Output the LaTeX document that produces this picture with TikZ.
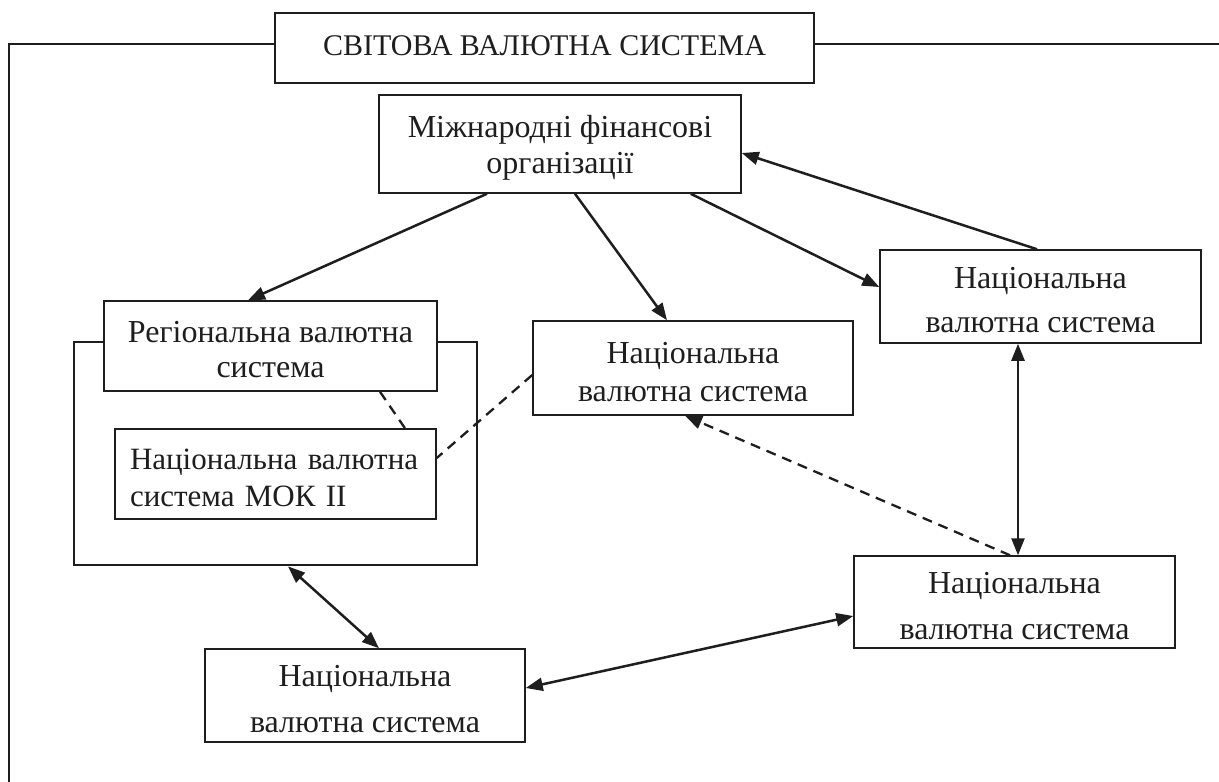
\documentclass[tikz,border=0pt]{standalone}
\usepackage{fontspec}
\setmainfont{Liberation Serif}
\usetikzlibrary{arrows.meta,calc}
\definecolor{ink}{HTML}{1E1E1E}
\begin{document}
\begin{tikzpicture}[x=1pt,y=-1pt,
  txt/.style={font=\fontsize{32}{38}\selectfont, text=ink},
  sbox/.style={draw=ink, line width=1.5pt, fill=white, inner sep=0pt},
  lbl/.style={txt, align=center, inner sep=0pt, yshift=-4pt},
  titlebox/.style={draw=ink, line width=2.8pt, fill=white, inner sep=0pt},
  framebox/.style={draw=ink, line width=2.8pt, inner sep=0pt},
  tip/.style={-{Triangle[length=17pt,width=13pt]}},
  conn/.style={draw=ink, line width=2.5pt, tip},
  biconn/.style={draw=ink, line width=2.5pt, {Triangle[length=17pt,width=13pt]}-{Triangle[length=17pt,width=13pt]}},
  dashline/.style={draw=ink, line width=2.3pt, dash pattern=on 10pt off 7pt}
]
\useasboundingbox (0,0) rectangle (1219,782);
\fill[white] (0,0) rectangle (1219,782);

% outer frame and title
\node[titlebox, minimum width=539pt, minimum height=70pt,
  label={[txt, font=\fontsize{30}{36}\selectfont, anchor=north, yshift=-21pt]north:СВІТОВА ВАЛЮТНА СИСТЕМА}] (title) at (544.5,48) {};
\coordinate (fbl) at (9,782);
\coordinate (fr) at (1219,44);
\draw[draw=ink, line width=2.2pt] (fbl) |- ([yshift=4pt]title.west);
\draw[draw=ink, line width=2.2pt] ([yshift=4pt]title.east) -- (fr);

% boxes
\node[sbox, minimum width=362pt, minimum height=98pt,
  label={[lbl, font=\fontsize{32}{36}\selectfont]center:{Міжнародні фінансові\\організації}}] (intl) at (560,144) {};
\node[framebox, minimum width=403pt, minimum height=223pt] (regframe) at (275.5,453.5) {};
\node[sbox, minimum width=333pt, minimum height=90pt,
  label={[lbl, font=\fontsize{32}{35}\selectfont]center:{Регіональна валютна\\система}}] (reg) at (270.5,346) {};
\node[sbox, minimum width=321pt, minimum height=90pt,
  label={[lbl, align=left, text width=291pt, font=\fontsize{31}{37}\selectfont]center:{Національна валютна\\система МОК ІІ}}] (mok) at (275.5,474) {};
\node[sbox, minimum width=320pt, minimum height=94pt,
  label={[lbl, font=\fontsize{32}{38}\selectfont]center:{Національна\\валютна система}}] (mid) at (693,368) {};
\node[sbox, minimum width=321pt, minimum height=93pt,
  label={[lbl, font=\fontsize{32}{44}\selectfont]center:{Національна\\валютна система}}] (right) at (1040.5,296.5) {};
\node[sbox, minimum width=321pt, minimum height=92pt,
  label={[lbl, font=\fontsize{32}{46}\selectfont]center:{Національна\\валютна система}}] (br) at (1014.5,602) {};
\node[sbox, minimum width=320pt, minimum height=93pt,
  label={[lbl, font=\fontsize{32}{46}\selectfont]center:{Національна\\валютна система}}] (bl) at (365,695.5) {};

% connectors
\draw[conn] ([xshift=-73pt]intl.south) -- ([xshift=-22.5pt]reg.north);
\draw[conn] ([xshift=15pt]intl.south) -- ([xshift=-26pt]mid.north);
\draw[conn] ([xshift=-51pt]intl.south east) -- ([yshift=9.5pt]right.west);
\draw[conn] ([xshift=-3.5pt]right.north) -- ([yshift=-9pt]intl.east);
\draw[biconn] ([xshift=-22.5pt]right.south) -- ([xshift=3.5pt]br.north);
\draw[dashline, tip] ([xshift=-4.5pt]br.north) -- ([xshift=-8pt]mid.south);
\draw[dashline] ([xshift=109.5pt]reg.south) -- ([xshift=129.5pt]mok.north);
\draw[dashline] ([yshift=-7pt]mid.west) -- ([yshift=16pt]mok.east);
\draw[biconn] ([xshift=12.5pt]regframe.south) -- ([xshift=14pt]bl.north);
\draw[biconn] ([yshift=7.5pt]bl.east) -- ([yshift=-14pt]br.west);
\end{tikzpicture}
\end{document}
